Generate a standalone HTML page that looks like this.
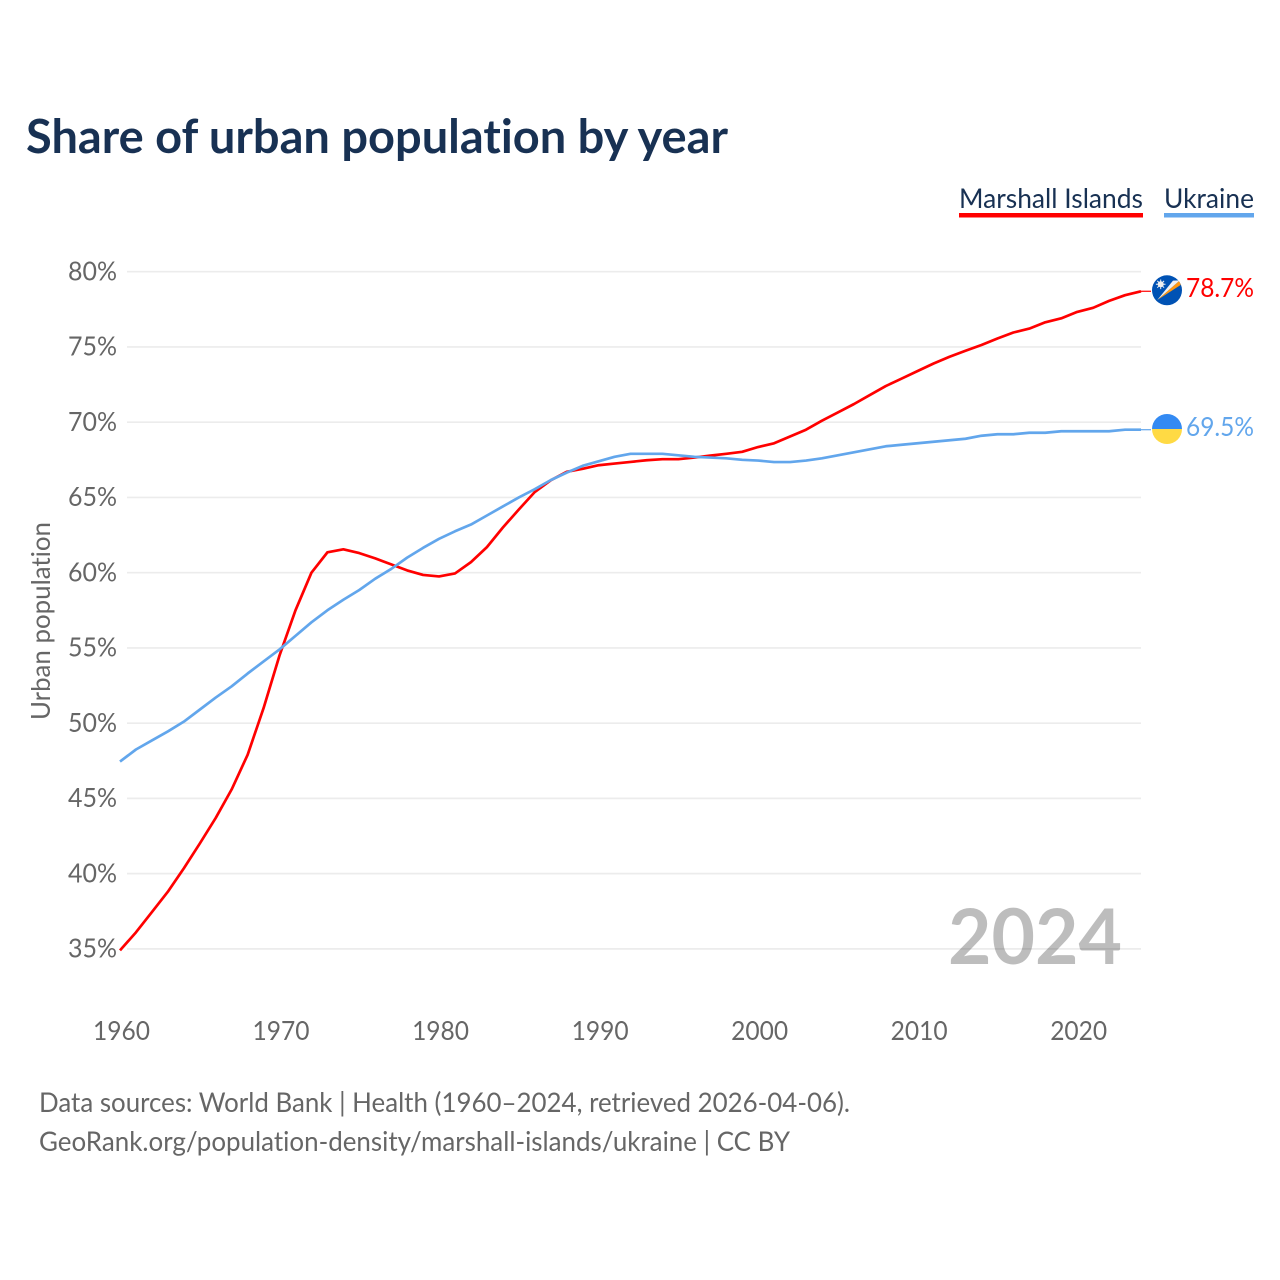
<!DOCTYPE html>
<html lang="en">
<head>
<meta charset="utf-8">
<title>Share of urban population by year</title>
<style>
html,body{margin:0;padding:0;background:#fff;width:1280px;height:1280px;overflow:hidden}
svg{display:block}
text{font-family:"Lato","Carlito","Liberation Sans",sans-serif;font-variant-ligatures:none}
</style>
</head>
<body>
<svg id="chart" xmlns="http://www.w3.org/2000/svg" width="1280" height="1280" viewBox="0 0 1280 1280">
  <text x="26" y="153" font-size="47" font-weight="700" fill="#183153" textLength="702" lengthAdjust="spacingAndGlyphs">Share of urban population by year</text>

  <g>
    <text x="959" y="208" font-size="27.5" fill="#183153" textLength="184" lengthAdjust="spacingAndGlyphs">Marshall Islands</text>
    <rect x="959" y="213" width="184" height="4.5" fill="#ff0000"/>
    <text x="1164" y="208" font-size="27.5" fill="#183153" textLength="90" lengthAdjust="spacingAndGlyphs">Ukraine</text>
    <rect x="1164" y="213" width="90" height="4.5" fill="#62a6ec"/>
  </g>

  <g id="grid"></g>
  <g id="yticks"></g>
  <g id="xticks"></g>

  <text transform="translate(50,621) rotate(-90)" text-anchor="middle" font-size="26.5" fill="#666666" textLength="198" lengthAdjust="spacingAndGlyphs">Urban population</text>

  <text x="948" y="964" font-size="77" font-weight="700" fill="#000000" fill-opacity="0.26" textLength="174" lengthAdjust="spacingAndGlyphs">2024</text>

  <g id="series"></g>

  <g id="flag-mh">
    <clipPath id="clip-mh"><circle cx="1167" cy="290.3" r="15"/></clipPath>
    <circle cx="1167" cy="290.3" r="15" fill="#0052b4"/>
    <g clip-path="url(#clip-mh)">
      <polygon points="1157.3,300 1179.8,280.4 1180.6,285" fill="#ff9811"/>
      <polygon points="1157.3,300 1173,280.6 1179.8,280.4" fill="#f0f0f0"/>
    </g>
    <circle cx="1160.7" cy="284.3" r="3" fill="#f0f0f0"/>
    <path d="M1160.7 279.5V289.1M1155.9 284.3H1165.5M1157.3 280.9L1164.1 287.7M1164.1 280.9L1157.3 287.7" stroke="#f0f0f0" stroke-width="1"/>
  </g>
  <g id="flag-ua">
    <path d="M1152 429a15 15 0 0 1 30 0z" fill="#338af3"/>
    <path d="M1152 429a15 15 0 0 0 30 0z" fill="#ffda44"/>
  </g>

  <text id="value-mh" x="1186" y="297" font-size="26.5" fill="#ff0000" textLength="68" lengthAdjust="spacingAndGlyphs"></text>
  <text id="value-ua" x="1186" y="436" font-size="26.5" fill="#62a6ec" textLength="68" lengthAdjust="spacingAndGlyphs"></text>

  <text x="39" y="1112" font-size="27" fill="#666666" textLength="811" lengthAdjust="spacingAndGlyphs">Data sources: World Bank | Health (1960–2024, retrieved 2026-04-06).</text>
  <text x="39" y="1151" font-size="27" fill="#666666" textLength="751" lengthAdjust="spacingAndGlyphs">GeoRank.org/population-density/marshall-islands/ukraine | CC BY</text>
</svg>
<script>
const startYear = 1960;
const yTickValues = [35, 40, 45, 50, 55, 60, 65, 70, 75, 80];
const xTickValues = [1960, 1970, 1980, 1990, 2000, 2010, 2020];
const marshallValues = [
  34.9, 36.1, 37.45, 38.8, 40.35, 42.0, 43.7, 45.6, 47.9, 51.0,
  54.5, 57.5, 60.0, 61.35, 61.55, 61.3, 60.95, 60.55, 60.15, 59.85,
  59.75, 59.95, 60.7, 61.7, 63.0, 64.2, 65.36, 66.14, 66.7, 66.9,
  67.14, 67.25, 67.36, 67.47, 67.54, 67.54, 67.65, 67.78, 67.9, 68.03,
  68.35, 68.6, 69.05, 69.5, 70.1, 70.65, 71.2, 71.8, 72.4, 72.9,
  73.4, 73.9, 74.35, 74.75, 75.13, 75.56, 75.96, 76.22, 76.64, 76.9,
  77.33, 77.6, 78.06, 78.44, 78.7
];
const ukraineValues = [
  47.45, 48.25, 48.85, 49.45, 50.1, 50.9, 51.7, 52.45, 53.3, 54.1,
  54.9, 55.8, 56.7, 57.5, 58.2, 58.85, 59.6, 60.25, 61.0, 61.65,
  62.25, 62.75, 63.2, 63.8, 64.4, 65.0, 65.55, 66.15, 66.65, 67.1,
  67.4, 67.7, 67.9, 67.9, 67.9, 67.8, 67.7, 67.65, 67.6, 67.5,
  67.45, 67.35, 67.35, 67.45, 67.6, 67.8, 68.0, 68.2, 68.4, 68.5,
  68.6, 68.7, 68.8, 68.9, 69.1, 69.2, 69.2, 69.3, 69.3, 69.4,
  69.4, 69.4, 69.4, 69.5, 69.5
];

const NS = 'http://www.w3.org/2000/svg';
function xScale(year) { return 120 + (year - 1960) * (1141 - 120) / 64; }
function yScale(v) { return 271.7 + (80 - v) * (948.9 - 271.7) / 45; }
function make(tag, attrs, parent, text) {
  const el = document.createElementNS(NS, tag);
  for (const k in attrs) el.setAttribute(k, attrs[k]);
  if (text !== undefined) el.textContent = text;
  parent.appendChild(el);
  return el;
}

const grid = document.getElementById('grid');
const yticks = document.getElementById('yticks');
yTickValues.forEach(function (v) {
  const line = make('line', { x1: 127, x2: 1141, y1: yScale(v), y2: yScale(v), stroke: '#ececec', 'stroke-width': 1.7 }, grid);
  
  
  const label = make('text', { x: 117, y: yScale(v) + 8.6, 'text-anchor': 'end', 'font-size': 26, fill: '#666666', textLength: 49, lengthAdjust: 'spacingAndGlyphs' }, yticks, v + '%');
  
  
});

const xticks = document.getElementById('xticks');
xTickValues.forEach(function (year) {
  const label = make('text', { x: xScale(year) + 1.5, y: 1040, 'text-anchor': 'middle', 'font-size': 26, fill: '#666666', textLength: 57, lengthAdjust: 'spacingAndGlyphs' }, xticks, String(year));
  
  
});

function linePath(values) {
  return values.map(function (v, i) {
    return (i ? 'L' : 'M') + xScale(startYear + i).toFixed(2) + ' ' + yScale(v).toFixed(2);
  }).join('');
}

const series = document.getElementById('series');
const lastMarshall = marshallValues[marshallValues.length - 1];
const lastUkraine = ukraineValues[ukraineValues.length - 1];

const leaderMarshall = make('line', { x1: 1141, x2: 1151, y1: yScale(lastMarshall), y2: yScale(lastMarshall), stroke: '#ff0000', 'stroke-width': 1.2 }, series);


const leaderUkraine = make('line', { x1: 1141, x2: 1151, y1: yScale(lastUkraine), y2: yScale(lastUkraine), stroke: '#62a6ec', 'stroke-width': 1.2 }, series);



const lineMarshall = make('path', { d: linePath(marshallValues), fill: 'none', stroke: '#ff0000', 'stroke-width': 2.7, 'stroke-linejoin': 'round' }, series);


const lineUkraine = make('path', { d: linePath(ukraineValues), fill: 'none', stroke: '#62a6ec', 'stroke-width': 2.7, 'stroke-linejoin': 'round' }, series);



document.getElementById('value-mh').textContent = lastMarshall.toFixed(1) + '%';
document.getElementById('value-ua').textContent = lastUkraine.toFixed(1) + '%';
</script>
</body>
</html>
